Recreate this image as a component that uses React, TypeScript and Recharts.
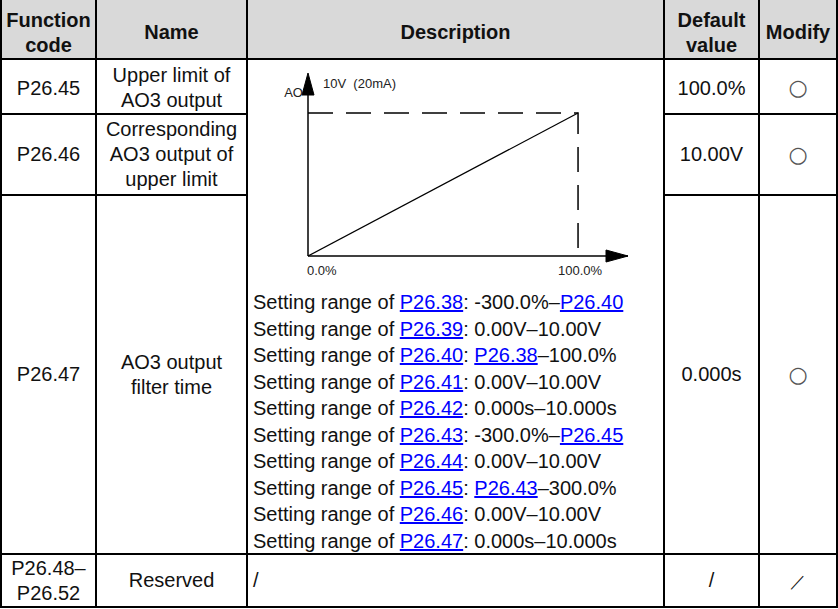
import React from 'react';
import { LineChart, Line, XAxis, YAxis, ReferenceDot, ReferenceLine } from 'recharts';

// chart values
const xTicks = [0, 100];
const xTickLabels = ['0.0%', '100.0%'];
const X_MAX = 118.5;
const Y_MAX = 128;
const outputX = [0, 100];
const outputY = [0, 100];
const limitX = [0, 100, 100];
const limitY = [100, 100, 0];
const yAxisLabel = 'AO';
const yMaxLabel = '10V  (20mA)';

const settingRanges = [
  'P26.38: -300.0%–P26.40',
  'P26.39: 0.00V–10.00V',
  'P26.40: P26.38–100.0%',
  'P26.41: 0.00V–10.00V',
  'P26.42: 0.000s–10.000s',
  'P26.43: -300.0%–P26.45',
  'P26.44: 0.00V–10.00V',
  'P26.45: P26.43–300.0%',
  'P26.46: 0.00V–10.00V',
  'P26.47: 0.000s–10.000s',
];

const outputData = outputX.map((x, i) => ({ x, y: outputY[i] }));
const limitData = limitX.map((x, i) => ({ x, y: limitY[i] }));

const FONT = 'Arial, "Liberation Sans", sans-serif';
const colX = [0, 95, 246, 663, 758, 836];
const rowY = [58, 113, 194, 553, 606];

const linkify = (s: string) =>
  s.split(/(P26\.\d\d)/).map((part, i) =>
    /^P26\.\d\d$/.test(part) ? (
      <span key={i} style={{ color: '#0000ff', textDecoration: 'underline' }}>{part}</span>
    ) : (
      <span key={i}>{part}</span>
    )
  );

const Cell: React.FC<{ x0: number; x1: number; y: number; h: number; bold?: boolean; children: React.ReactNode }> = ({
  x0, x1, y, h, bold, children,
}) => (
  <div
    style={{
      position: 'absolute',
      left: x0,
      width: x1 - x0,
      top: y,
      height: h,
      display: 'flex',
      alignItems: 'center',
      justifyContent: 'center',
      textAlign: 'center',
      fontWeight: bold ? 700 : 400,
      lineHeight: '25px',
      fontSize: 20,
    }}
  >
    <div>{children}</div>
  </div>
);

const Circle = () => (
  <span style={{ fontFamily: '"DejaVu Sans", sans-serif', fontSize: 22, color: '#555' }}>○</span>
);

const AxisTick = (props: any) => {
  const { x, y, payload } = props;
  const idx = xTicks.indexOf(payload.value);
  return (
    <text x={idx === 0 ? x - 1 : x + 2} y={y} dy={11} textAnchor={idx === 0 ? 'start' : 'middle'} fontSize={13} fill="#222" fontFamily={FONT}>
      {xTickLabels[idx]}
    </text>
  );
};

const XArrow = (props: any) => {
  const { cx, cy } = props;
  return <path d={`M${cx},${cy} L${cx - 22},${cy - 6} L${cx - 22},${cy + 6} Z`} fill="#000" stroke="#000" strokeWidth={1} />;
};

// y axis line with its arrow head at the top end
const YAxisArrow = (props: any) => {
  const { x1, y1, x2, y2 } = props;
  const tipY = Math.min(y1, y2);
  const baseY = Math.max(y1, y2);
  const x = x1;
  return (
    <g>
      <line x1={x} y1={baseY} x2={x2} y2={tipY + 10} stroke="#000" strokeWidth={1.5} />
      <path d={`M${x},${tipY} L${x - 6},${tipY + 22} L${x + 6},${tipY + 22} Z`} fill="#000" stroke="#000" strokeWidth={1} />
    </g>
  );
};

const YLabels = (props: any) => {
  const { cx, cy } = props;
  return (
    <g>
      <text x={cx - 5} y={cy + 24} textAnchor="end" fontSize={13} fill="#222" fontFamily={FONT}>{yAxisLabel}</text>
      <text x={cx + 15} y={cy + 15} fontSize={13} fill="#222" fontFamily={FONT} style={{ whiteSpace: 'pre' }}>{yMaxLabel}</text>
    </g>
  );
};

const OutputChart = () => (
  <LineChart width={414} height={225} margin={{ top: 12, right: 34, bottom: 0, left: 60 }}>
    <XAxis
      type="number"
      dataKey="x"
      domain={[0, X_MAX]}
      ticks={xTicks}
      tickLine={false}
      tick={<AxisTick />}
      axisLine={{ stroke: '#000', strokeWidth: 1.5 }}
      height={30}
    />
    <YAxis type="number" dataKey="y" domain={[0, Y_MAX]} hide />
    <Line data={limitData} dataKey="y" stroke="#000" strokeWidth={1.5} strokeDasharray="25 13" dot={false} isAnimationActive={false} />
    <Line data={outputData} dataKey="y" stroke="#000" strokeWidth={1.3} dot={false} isAnimationActive={false} />
    <ReferenceLine segment={[{ x: 0, y: 0 }, { x: 0, y: Y_MAX }]} shape={<YAxisArrow />} ifOverflow="visible" />
    <ReferenceDot x={X_MAX} y={0} shape={<XArrow />} ifOverflow="visible" />
    <ReferenceDot x={0} y={Y_MAX} shape={<YLabels />} ifOverflow="visible" />
  </LineChart>
);

const App: React.FC = () => {
  const line = (style: React.CSSProperties) => <div style={{ position: 'absolute', background: '#000', ...style }} />;
  return (
    <div style={{ position: 'absolute', left: 0, top: 0, width: 838, height: 609, fontFamily: FONT, color: '#111', background: '#fff' }}>
      <div style={{ position: 'absolute', left: 0, top: 0, width: 838, height: 58, background: '#d9d9d9' }} />

      {/* header */}
      <Cell x0={2} x1={95} y={7} h={51} bold>Function<br />code</Cell>
      <Cell x0={97} x1={246} y={7} h={51} bold>Name</Cell>
      <Cell x0={248} x1={663} y={7} h={51} bold>Description</Cell>
      <Cell x0={665} x1={758} y={7} h={51} bold>Default<br />value</Cell>
      <Cell x0={760} x1={836} y={7} h={51} bold>Modify</Cell>

      {/* rows */}
      <Cell x0={2} x1={95} y={62} h={52}>P26.45</Cell>
      <Cell x0={97} x1={246} y={62} h={52}>Upper limit of<br />AO3 output</Cell>
      <Cell x0={665} x1={758} y={62} h={52}>100.0%</Cell>
      <Cell x0={760} x1={836} y={62} h={52}><Circle /></Cell>

      <Cell x0={2} x1={95} y={115} h={79}>P26.46</Cell>
      <Cell x0={97} x1={246} y={115} h={79}>Corresponding<br />AO3 output of<br />upper limit</Cell>
      <Cell x0={665} x1={758} y={115} h={79}>10.00V</Cell>
      <Cell x0={760} x1={836} y={115} h={79}><Circle /></Cell>

      <Cell x0={2} x1={95} y={196} h={357}>P26.47</Cell>
      <Cell x0={97} x1={246} y={196} h={357}>AO3 output<br />filter time</Cell>
      <Cell x0={665} x1={758} y={196} h={357}>0.000s</Cell>
      <Cell x0={760} x1={836} y={196} h={357}><Circle /></Cell>

      <Cell x0={2} x1={95} y={555} h={51}>P26.48–<br />P26.52</Cell>
      <Cell x0={97} x1={246} y={555} h={51}>Reserved</Cell>
      <div style={{ position: 'absolute', left: 253, top: 555, height: 51, display: 'flex', alignItems: 'center', fontSize: 20 }}>/</div>
      <Cell x0={665} x1={758} y={555} h={51}>/</Cell>
      <Cell x0={760} x1={836} y={555} h={51}><span style={{ fontSize: 16 }}>／</span></Cell>

      {/* chart */}
      <div style={{ position: 'absolute', left: 248, top: 61 }}>
        <OutputChart />
      </div>

      <div style={{ position: 'absolute', left: 253, top: 289, fontSize: 20, lineHeight: '26.5px', whiteSpace: 'nowrap' }}>
        {settingRanges.map((s, i) => (
          <div key={i}>Setting range of {linkify(s)}</div>
        ))}
      </div>

      {/* grid lines */}
      {colX.map((x, i) => (
        <React.Fragment key={'c' + i}>{line({ left: x, top: 0, width: 2, height: 608 })}</React.Fragment>
      ))}
      {line({ left: 0, top: rowY[0], width: 838, height: 2 })}
      {line({ left: 0, top: rowY[1], width: colX[2], height: 2 })}
      {line({ left: colX[3], top: rowY[1], width: 838 - colX[3], height: 2 })}
      {line({ left: 0, top: rowY[2], width: colX[2], height: 2 })}
      {line({ left: colX[3], top: rowY[2], width: 838 - colX[3], height: 2 })}
      {line({ left: 0, top: rowY[3], width: 838, height: 2 })}
      {line({ left: 0, top: rowY[4], width: 838, height: 2 })}
    </div>
  );
};

export default App;
